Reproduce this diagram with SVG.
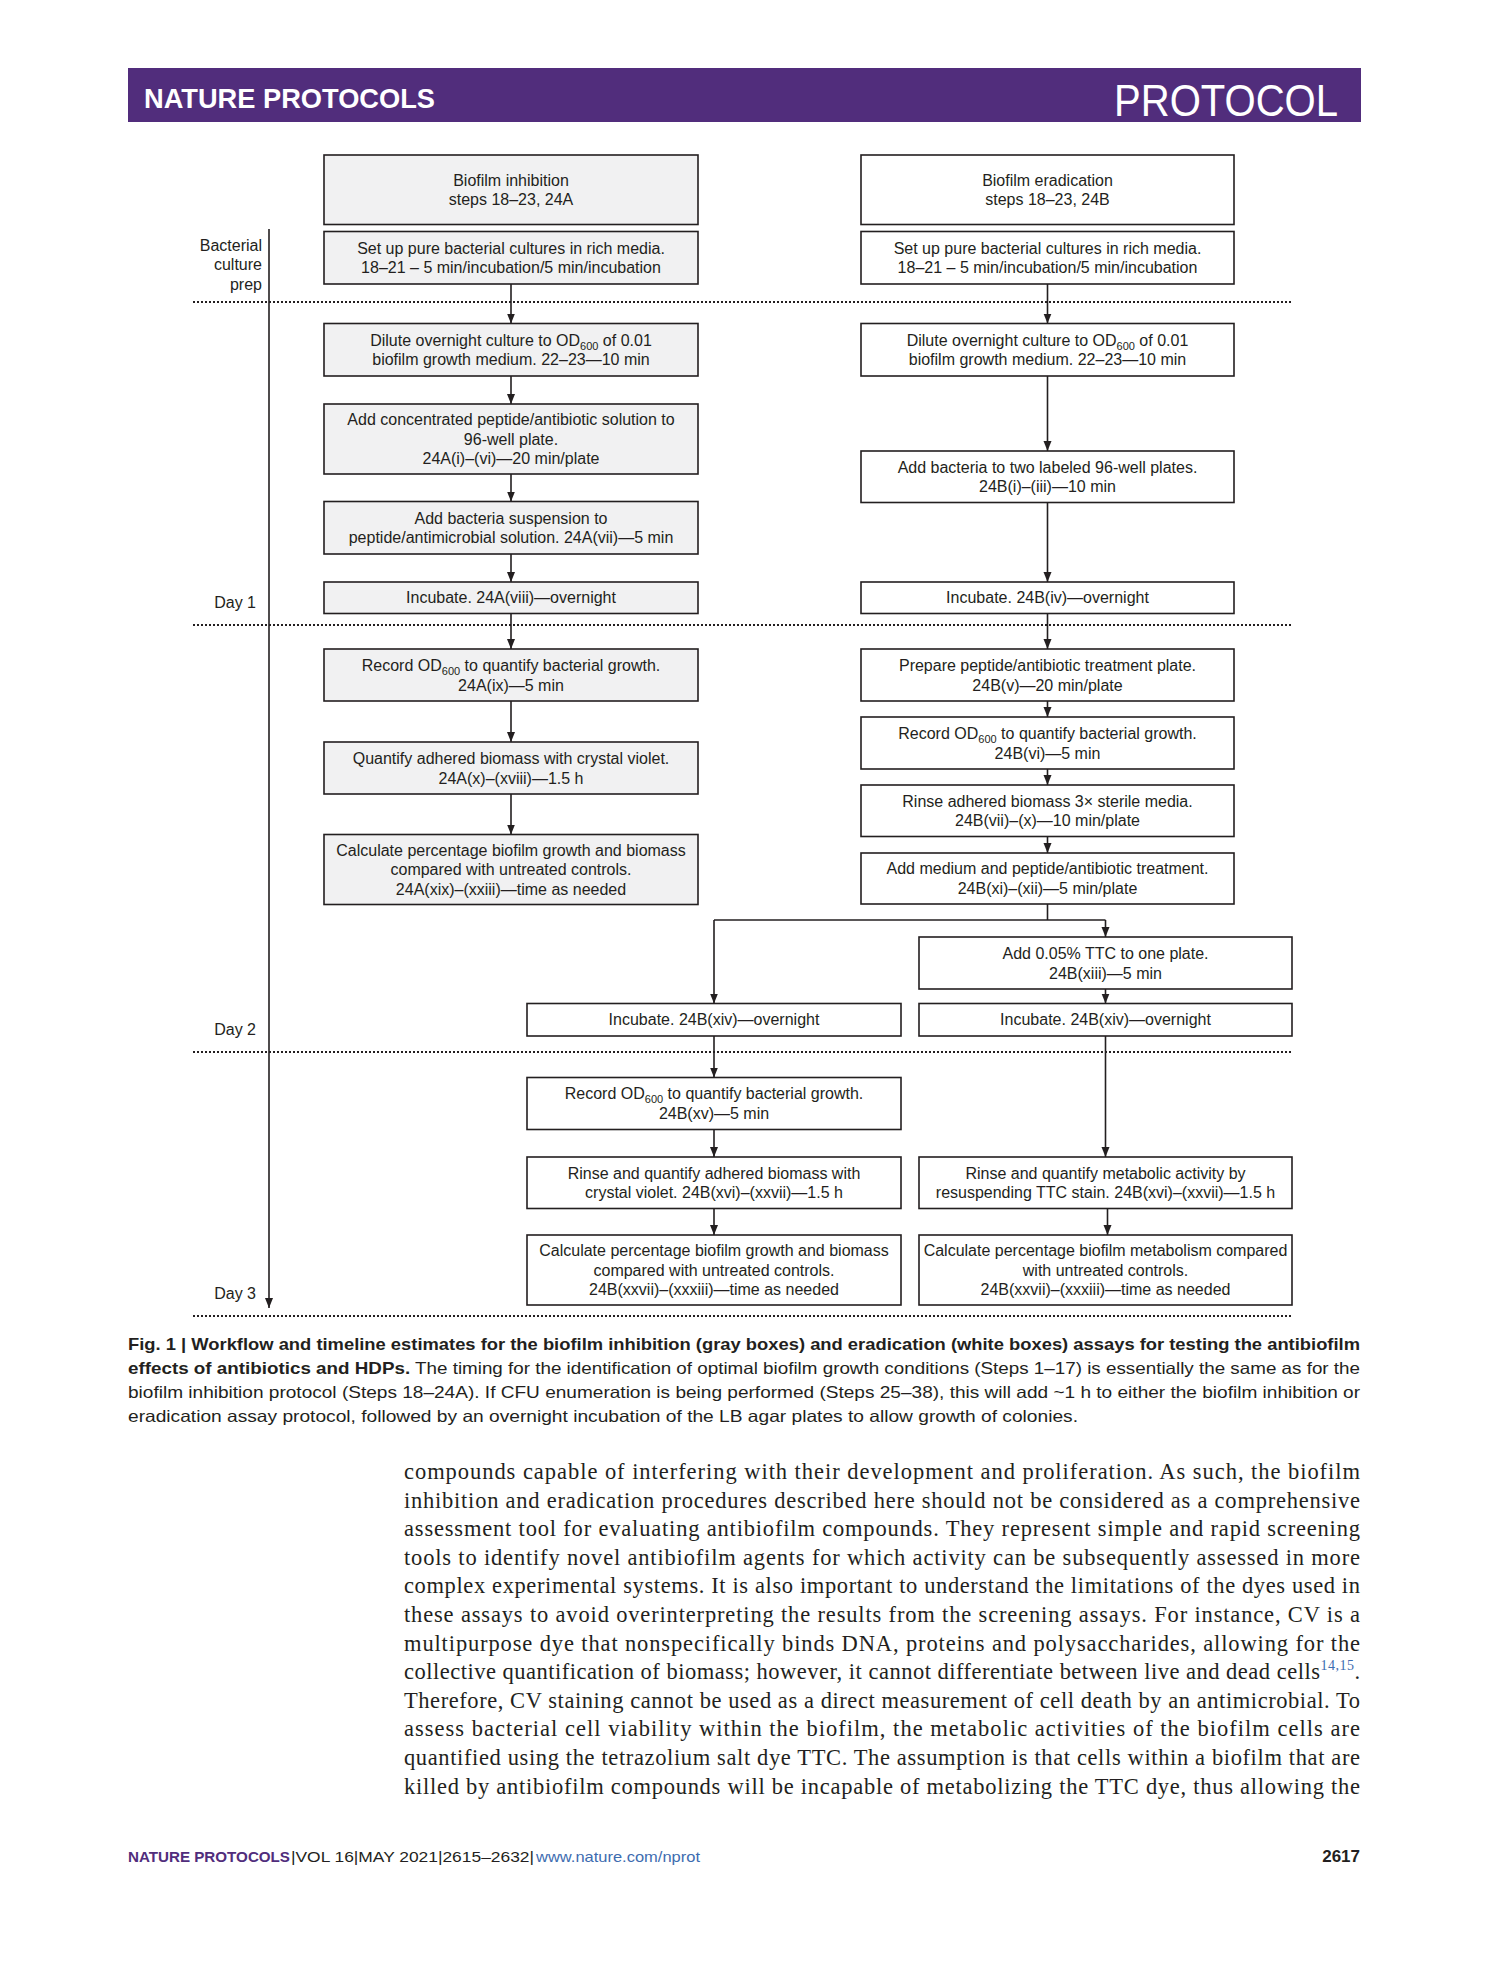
<svg xmlns="http://www.w3.org/2000/svg" width="1489" height="1978" viewBox="0 0 1489 1978">
<style>
.bx{stroke:#231f20;stroke-width:1.6}
.g{fill:#f1f1f2}
.w{fill:#ffffff}
.t{font-family:"Liberation Sans",Arial,sans-serif;font-size:16px;fill:#231f20;text-anchor:middle}
.lab{font-family:"Liberation Sans",Arial,sans-serif;font-size:16px;fill:#231f20;text-anchor:end}
.sub{font-size:11px}
.c{stroke:#231f20;stroke-width:1.6;fill:none}
.dot{stroke:#231f20;stroke-width:2;stroke-dasharray:2 2;fill:none}
.cap{font-family:"Liberation Sans",Arial,sans-serif;font-size:16.5px;fill:#231f20}
.body{font-family:"Liberation Serif","Times New Roman",serif;font-size:22.5px;fill:#231f20}
</style>
<defs>
<marker id="ah" viewBox="0 0 10 10" refX="10" refY="5" markerWidth="10" markerHeight="10" markerUnits="userSpaceOnUse" orient="auto">
<path d="M0,1 L10,5 L0,9 Z" fill="#231f20"/>
</marker>
</defs>
<rect width="1489" height="1978" fill="#ffffff"/>

<!-- header band -->
<g id="header">
<rect x="128" y="68" width="1233" height="54" fill="#512d7c"/>
<text x="144" y="108" font-family="'Liberation Sans',Arial,sans-serif" font-weight="bold" font-size="28" fill="#ffffff" textLength="291" lengthAdjust="spacingAndGlyphs">NATURE PROTOCOLS</text>
<text x="1338" y="116" font-family="'Liberation Sans',Arial,sans-serif" font-size="44" fill="#ffffff" text-anchor="end" textLength="224" lengthAdjust="spacingAndGlyphs">PROTOCOL</text>
</g>

<!-- timeline and separators -->
<g id="timeline">
<line class="c" x1="269" y1="229" x2="269" y2="1308" marker-end="url(#ah)"/>
<line class="dot" x1="193" y1="302" x2="1292" y2="302"/>
<line class="dot" x1="193" y1="625" x2="1292" y2="625"/>
<line class="dot" x1="193" y1="1052" x2="1292" y2="1052"/>
<line class="dot" x1="193" y1="1316" x2="1292" y2="1316"/>
<text class="lab" x="262" y="251">Bacterial</text>
<text class="lab" x="262" y="270">culture</text>
<text class="lab" x="262" y="290">prep</text>
<text class="lab" x="256" y="608">Day 1</text>
<text class="lab" x="256" y="1035">Day 2</text>
<text class="lab" x="256" y="1299">Day 3</text>
</g>

<!-- connectors -->
<g id="connectors">
<line class="c" x1="511" y1="284" x2="511" y2="323.5" marker-end="url(#ah)"/>
<line class="c" x1="511" y1="376" x2="511" y2="404" marker-end="url(#ah)"/>
<line class="c" x1="511" y1="474" x2="511" y2="501.5" marker-end="url(#ah)"/>
<line class="c" x1="511" y1="554" x2="511" y2="582" marker-end="url(#ah)"/>
<line class="c" x1="511" y1="613.5" x2="511" y2="649" marker-end="url(#ah)"/>
<line class="c" x1="511" y1="701" x2="511" y2="742" marker-end="url(#ah)"/>
<line class="c" x1="511" y1="794" x2="511" y2="834.5" marker-end="url(#ah)"/>

<line class="c" x1="1047.5" y1="284" x2="1047.5" y2="323.5" marker-end="url(#ah)"/>
<line class="c" x1="1047.5" y1="376" x2="1047.5" y2="451" marker-end="url(#ah)"/>
<line class="c" x1="1047.5" y1="502.5" x2="1047.5" y2="582" marker-end="url(#ah)"/>
<line class="c" x1="1047.5" y1="613.5" x2="1047.5" y2="649" marker-end="url(#ah)"/>
<line class="c" x1="1047.5" y1="701" x2="1047.5" y2="717" marker-end="url(#ah)"/>
<line class="c" x1="1047.5" y1="769" x2="1047.5" y2="785" marker-end="url(#ah)"/>
<line class="c" x1="1047.5" y1="836.5" x2="1047.5" y2="853" marker-end="url(#ah)"/>
<polyline class="c" points="1047.5,904 1047.5,920"/>
<polyline class="c" points="714,920 1105.5,920"/>
<line class="c" x1="714" y1="920" x2="714" y2="1003.5" marker-end="url(#ah)"/>
<line class="c" x1="1105.5" y1="920" x2="1105.5" y2="937" marker-end="url(#ah)"/>
<line class="c" x1="1105.5" y1="989" x2="1105.5" y2="1003.5" marker-end="url(#ah)"/>
<line class="c" x1="1105.5" y1="1036" x2="1105.5" y2="1157" marker-end="url(#ah)"/>
<line class="c" x1="1107.5" y1="1208.5" x2="1107.5" y2="1235" marker-end="url(#ah)"/>

<line class="c" x1="714" y1="1036" x2="714" y2="1077.5" marker-end="url(#ah)"/>
<line class="c" x1="714" y1="1129.5" x2="714" y2="1157" marker-end="url(#ah)"/>
<line class="c" x1="714" y1="1208.5" x2="714" y2="1235" marker-end="url(#ah)"/>
</g>

<!-- left column (inhibition, gray) -->
<g id="inhibition-header">
<rect class="bx g" x="324" y="155" width="374" height="69.5"/>
<text class="t" x="511" y="185.6">Biofilm inhibition</text>
<text class="t" x="511" y="205.2">steps 18–23, 24A</text>
</g>
<g id="inhibition-setup">
<rect class="bx g" x="324" y="231.5" width="374" height="52.5"/>
<text class="t" x="511" y="253.7">Set up pure bacterial cultures in rich media.</text>
<text class="t" x="511" y="273.3">18–21 – 5 min/incubation/5 min/incubation</text>
</g>
<g id="inhibition-dilute">
<rect class="bx g" x="324" y="323.5" width="374" height="52.5"/>
<text class="t" x="511" y="345.6">Dilute overnight culture to OD<tspan class="sub" dy="4">600</tspan><tspan dy="-4"> of 0.01</tspan></text>
<text class="t" x="511" y="365.2">biofilm growth medium. 22–23—10 min</text>
</g>
<g id="inhibition-addconc">
<rect class="bx g" x="324" y="404" width="374" height="70"/>
<text class="t" x="511" y="425.1">Add concentrated peptide/antibiotic solution to</text>
<text class="t" x="511" y="444.7">96-well plate.</text>
<text class="t" x="511" y="464.3">24A(i)–(vi)—20 min/plate</text>
</g>
<g id="inhibition-addbact">
<rect class="bx g" x="324" y="501.5" width="374" height="52.5"/>
<text class="t" x="511" y="523.6">Add bacteria suspension to</text>
<text class="t" x="511" y="543.2">peptide/antimicrobial solution. 24A(vii)—5 min</text>
</g>
<g id="inhibition-incubate">
<rect class="bx g" x="324" y="582" width="374" height="31.5"/>
<text class="t" x="511" y="603.4">Incubate. 24A(viii)—overnight</text>
</g>
<g id="inhibition-record">
<rect class="bx g" x="324" y="649" width="374" height="52"/>
<text class="t" x="511" y="670.9">Record OD<tspan class="sub" dy="4">600</tspan><tspan dy="-4"> to quantify bacterial growth.</tspan></text>
<text class="t" x="511" y="690.5">24A(ix)—5 min</text>
</g>
<g id="inhibition-quantify">
<rect class="bx g" x="324" y="742" width="374" height="52"/>
<text class="t" x="511" y="763.9">Quantify adhered biomass with crystal violet.</text>
<text class="t" x="511" y="783.5">24A(x)–(xviii)—1.5 h</text>
</g>
<g id="inhibition-calc">
<rect class="bx g" x="324" y="834.5" width="374" height="70"/>
<text class="t" x="511" y="855.6">Calculate percentage biofilm growth and biomass</text>
<text class="t" x="511" y="875.2">compared with untreated controls.</text>
<text class="t" x="511" y="894.8">24A(xix)–(xxiii)—time as needed</text>
</g>

<!-- right column (eradication, white) -->
<g id="eradication-header">
<rect class="bx w" x="861" y="155" width="373" height="69.5"/>
<text class="t" x="1047.5" y="185.6">Biofilm eradication</text>
<text class="t" x="1047.5" y="205.2">steps 18–23, 24B</text>
</g>
<g id="eradication-setup">
<rect class="bx w" x="861" y="231.5" width="373" height="52.5"/>
<text class="t" x="1047.5" y="253.7">Set up pure bacterial cultures in rich media.</text>
<text class="t" x="1047.5" y="273.3">18–21 – 5 min/incubation/5 min/incubation</text>
</g>
<g id="eradication-dilute">
<rect class="bx w" x="861" y="323.5" width="373" height="52.5"/>
<text class="t" x="1047.5" y="345.6">Dilute overnight culture to OD<tspan class="sub" dy="4">600</tspan><tspan dy="-4"> of 0.01</tspan></text>
<text class="t" x="1047.5" y="365.2">biofilm growth medium. 22–23—10 min</text>
</g>
<g id="eradication-addbact">
<rect class="bx w" x="861" y="451" width="373" height="51.5"/>
<text class="t" x="1047.5" y="472.6">Add bacteria to two labeled 96-well plates.</text>
<text class="t" x="1047.5" y="492.2">24B(i)–(iii)—10 min</text>
</g>
<g id="eradication-incubate">
<rect class="bx w" x="861" y="582" width="373" height="31.5"/>
<text class="t" x="1047.5" y="603.4">Incubate. 24B(iv)—overnight</text>
</g>
<g id="eradication-prepare">
<rect class="bx w" x="861" y="649" width="373" height="52"/>
<text class="t" x="1047.5" y="670.9">Prepare peptide/antibiotic treatment plate.</text>
<text class="t" x="1047.5" y="690.5">24B(v)—20 min/plate</text>
</g>
<g id="eradication-record">
<rect class="bx w" x="861" y="717" width="373" height="52"/>
<text class="t" x="1047.5" y="738.9">Record OD<tspan class="sub" dy="4">600</tspan><tspan dy="-4"> to quantify bacterial growth.</tspan></text>
<text class="t" x="1047.5" y="758.5">24B(vi)—5 min</text>
</g>
<g id="eradication-rinse">
<rect class="bx w" x="861" y="785" width="373" height="51.5"/>
<text class="t" x="1047.5" y="806.6">Rinse adhered biomass 3× sterile media.</text>
<text class="t" x="1047.5" y="826.2">24B(vii)–(x)—10 min/plate</text>
</g>
<g id="eradication-addmedium">
<rect class="bx w" x="861" y="853" width="373" height="51"/>
<text class="t" x="1047.5" y="874.4">Add medium and peptide/antibiotic treatment.</text>
<text class="t" x="1047.5" y="894">24B(xi)–(xii)—5 min/plate</text>
</g>
<g id="eradication-ttc">
<rect class="bx w" x="919" y="937" width="373" height="52"/>
<text class="t" x="1105.5" y="958.9">Add 0.05% TTC to one plate.</text>
<text class="t" x="1105.5" y="978.5">24B(xiii)—5 min</text>
</g>
<g id="eradication-incubate-cv">
<rect class="bx w" x="527" y="1003.5" width="374" height="32.5"/>
<text class="t" x="714" y="1025.4">Incubate. 24B(xiv)—overnight</text>
</g>
<g id="eradication-incubate-ttc">
<rect class="bx w" x="919" y="1003.5" width="373" height="32.5"/>
<text class="t" x="1105.5" y="1025.4">Incubate. 24B(xiv)—overnight</text>
</g>
<g id="eradication-record2">
<rect class="bx w" x="527" y="1077.5" width="374" height="52"/>
<text class="t" x="714" y="1099.4">Record OD<tspan class="sub" dy="4">600</tspan><tspan dy="-4"> to quantify bacterial growth.</tspan></text>
<text class="t" x="714" y="1119">24B(xv)—5 min</text>
</g>
<g id="eradication-rinse-cv">
<rect class="bx w" x="527" y="1157" width="374" height="51.5"/>
<text class="t" x="714" y="1178.6">Rinse and quantify adhered biomass with</text>
<text class="t" x="714" y="1198.2">crystal violet. 24B(xvi)–(xxvii)—1.5 h</text>
</g>
<g id="eradication-rinse-ttc">
<rect class="bx w" x="919" y="1157" width="373" height="51.5"/>
<text class="t" x="1105.5" y="1178.6">Rinse and quantify metabolic activity by</text>
<text class="t" x="1105.5" y="1198.2">resuspending TTC stain. 24B(xvi)–(xxvii)—1.5 h</text>
</g>
<g id="eradication-calc-cv">
<rect class="bx w" x="527" y="1235" width="374" height="70"/>
<text class="t" x="714" y="1256.1">Calculate percentage biofilm growth and biomass</text>
<text class="t" x="714" y="1275.7">compared with untreated controls.</text>
<text class="t" x="714" y="1295.3">24B(xxvii)–(xxxiii)—time as needed</text>
</g>
<g id="eradication-calc-ttc">
<rect class="bx w" x="919" y="1235" width="373" height="70"/>
<text class="t" x="1105.5" y="1256.1">Calculate percentage biofilm metabolism compared</text>
<text class="t" x="1105.5" y="1275.7">with untreated controls.</text>
<text class="t" x="1105.5" y="1295.3">24B(xxvii)–(xxxiii)—time as needed</text>
</g>

<!-- caption -->
<g id="caption">
<text class="cap" x="128" y="1350" font-weight="bold" textLength="1232" lengthAdjust="spacingAndGlyphs">Fig. 1 | Workflow and timeline estimates for the biofilm inhibition (gray boxes) and eradication (white boxes) assays for testing the antibiofilm</text>
<text class="cap" x="128" y="1374" textLength="1232" lengthAdjust="spacingAndGlyphs"><tspan font-weight="bold">effects of antibiotics and HDPs.</tspan> The timing for the identification of optimal biofilm growth conditions (Steps 1–17) is essentially the same as for the</text>
<text class="cap" x="128" y="1398" textLength="1232" lengthAdjust="spacingAndGlyphs">biofilm inhibition protocol (Steps 18–24A). If CFU enumeration is being performed (Steps 25–38), this will add ~1 h to either the biofilm inhibition or</text>
<text class="cap" x="128" y="1422" textLength="950" lengthAdjust="spacingAndGlyphs">eradication assay protocol, followed by an overnight incubation of the LB agar plates to allow growth of colonies.</text>
</g>

<!-- body text -->
<g id="body">
<text class="body" x="404" y="1479" textLength="956" lengthAdjust="spacing">compounds capable of interfering with their development and proliferation. As such, the biofilm</text>
<text class="body" x="404" y="1507.6" textLength="956" lengthAdjust="spacing">inhibition and eradication procedures described here should not be considered as a comprehensive</text>
<text class="body" x="404" y="1536.2" textLength="956" lengthAdjust="spacing">assessment tool for evaluating antibiofilm compounds. They represent simple and rapid screening</text>
<text class="body" x="404" y="1564.8" textLength="956" lengthAdjust="spacing">tools to identify novel antibiofilm agents for which activity can be subsequently assessed in more</text>
<text class="body" x="404" y="1593.4" textLength="956" lengthAdjust="spacing">complex experimental systems. It is also important to understand the limitations of the dyes used in</text>
<text class="body" x="404" y="1622" textLength="956" lengthAdjust="spacing">these assays to avoid overinterpreting the results from the screening assays. For instance, CV is a</text>
<text class="body" x="404" y="1650.6" textLength="956" lengthAdjust="spacing">multipurpose dye that nonspecifically binds DNA, proteins and polysaccharides, allowing for the</text>
<text class="body" x="404" y="1679.2" textLength="956" lengthAdjust="spacing">collective quantification of biomass; however, it cannot differentiate between live and dead cells<tspan font-size="14" dy="-9" fill="#3d6cb0">14,15</tspan><tspan dy="9">.</tspan></text>
<text class="body" x="404" y="1707.8" textLength="956" lengthAdjust="spacing">Therefore, CV staining cannot be used as a direct measurement of cell death by an antimicrobial. To</text>
<text class="body" x="404" y="1736.4" textLength="956" lengthAdjust="spacing">assess bacterial cell viability within the biofilm, the metabolic activities of the biofilm cells are</text>
<text class="body" x="404" y="1765" textLength="956" lengthAdjust="spacing">quantified using the tetrazolium salt dye TTC. The assumption is that cells within a biofilm that are</text>
<text class="body" x="404" y="1793.6" textLength="956" lengthAdjust="spacing">killed by antibiofilm compounds will be incapable of metabolizing the TTC dye, thus allowing the</text>
</g>

<!-- footer -->
<g id="footer">
<text x="128" y="1862" font-family="'Liberation Sans',Arial,sans-serif" font-size="15" font-weight="bold" fill="#512d7c" textLength="162" lengthAdjust="spacingAndGlyphs">NATURE PROTOCOLS</text>
<text x="291" y="1862" font-family="'Liberation Sans',Arial,sans-serif" font-size="15" fill="#231f20" textLength="243" lengthAdjust="spacingAndGlyphs">|VOL 16|MAY 2021|2615–2632|</text>
<text x="536" y="1862" font-family="'Liberation Sans',Arial,sans-serif" font-size="15" fill="#3d6cb0" textLength="164" lengthAdjust="spacingAndGlyphs">www.nature.com/nprot</text>
<text x="1360" y="1862" font-family="'Liberation Sans',Arial,sans-serif" font-size="17" font-weight="bold" fill="#231f20" text-anchor="end">2617</text>
</g>
</svg>
